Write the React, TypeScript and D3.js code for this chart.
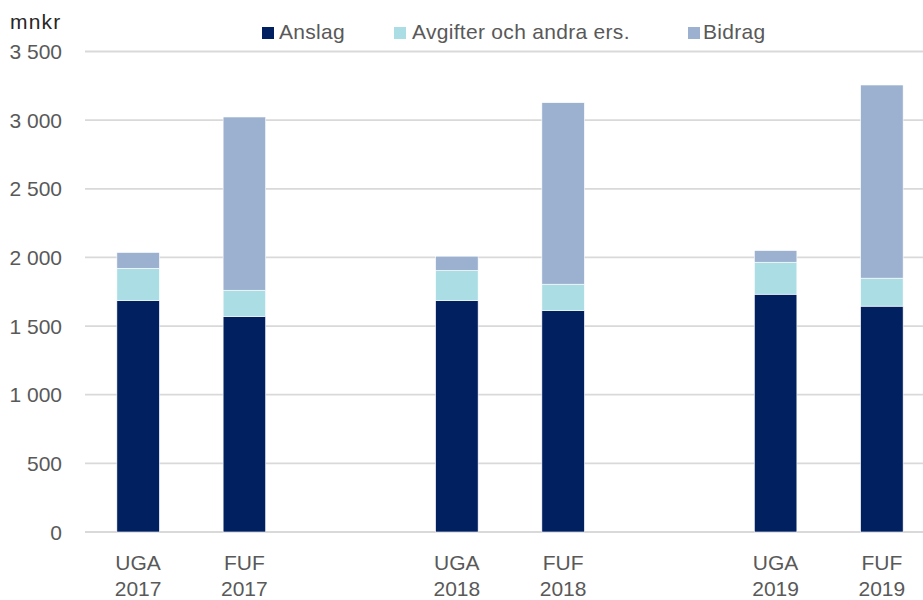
import React from "react";
import { scaleBand, scaleLinear, stack, format } from "d3";

// slots along x (empty slots give the gaps between years)
const slots = ["UGA 2017", "FUF 2017", "gap1", "UGA 2018", "FUF 2018", "gap2", "UGA 2019", "FUF 2019"];
const categories = ["UGA 2017", "FUF 2017", "UGA 2018", "FUF 2018", "UGA 2019", "FUF 2019"];
const seriesNames = ["Anslag", "Avgifter och andra ers.", "Bidrag"];
const anslag = [1686, 1570, 1686, 1613, 1732, 1645];
const avgifter = [235, 191, 219, 192, 233, 204];
const bidrag = [115, 1262, 104, 1322, 85, 1407];
const yTicks = [0, 500, 1000, 1500, 2000, 2500, 3000, 3500];
const colors = ["#002060", "#ABDDE5", "#9BB1CF"];

const W = 923;
const H = 600;
const font = "'Liberation Sans', Arial, sans-serif";

function App() {
  const x = scaleBand<string>().domain(slots).range([85, 935]).paddingInner(0.6).paddingOuter(0.3);
  const y = scaleLinear().domain([0, 3500]).range([532, 51.5]);

  const rows = categories.map((c, i) => ({
    cat: c,
    "Anslag": anslag[i],
    "Avgifter och andra ers.": avgifter[i],
    "Bidrag": bidrag[i],
  }));
  const layers = stack<any>().keys(seriesNames)(rows);
  const fmt = (v: number) => format(",")(v).replace(/,/g, " ");

  const legend = [
    { name: seriesNames[0], sx: 262, tx: 279 },
    { name: seriesNames[1], sx: 394, tx: 412 },
    { name: seriesNames[2], sx: 688, tx: 703 },
  ];

  return (
    <svg width={W} height={H} style={{ position: "absolute", left: 0, top: 0, background: "#fff" }}>
      {yTicks.map((t) => (
        <g key={t}>
          <line x1={85} x2={W} y1={y(t)} y2={y(t)} stroke="#d9d9d9" strokeWidth={1.8} />
          <text x={62} y={y(t)} dy="0.36em" textAnchor="end" fontFamily={font} fontSize={21} fill="#595959">
            {fmt(t)}
          </text>
        </g>
      ))}
      <text x={10} y={29} fontFamily={font} fontSize={21} letterSpacing={1.2} fill="#262626">mnkr</text>

      {layers.map((layer, li) =>
        layer.map((d: any) => (
          <rect
            key={li + d.data.cat}
            x={x(d.data.cat)}
            width={x.bandwidth()}
            y={y(d[1])}
            height={y(d[0]) - y(d[1])}
            fill={colors[li]}
            stroke="#fff"
            strokeWidth={0.6}
          />
        ))
      )}

      {categories.map((c) => {
        const [lab, yr] = c.split(" ");
        const cx = (x(c) as number) + x.bandwidth() / 2;
        return (
          <g key={c} fontFamily={font} fontSize={21} fill="#595959" textAnchor="middle">
            <text x={cx} y={570}>{lab}</text>
            <text x={cx} y={596}>{yr}</text>
          </g>
        );
      })}

      {legend.map((l, i) => (
        <g key={l.name}>
          <rect x={l.sx} y={27} width={12} height={12} fill={colors[i]} />
          <text x={l.tx} y={39} fontFamily={font} fontSize={21} letterSpacing={0.3} fill="#595959">{l.name}</text>
        </g>
      ))}
    </svg>
  );
}

export default App;
